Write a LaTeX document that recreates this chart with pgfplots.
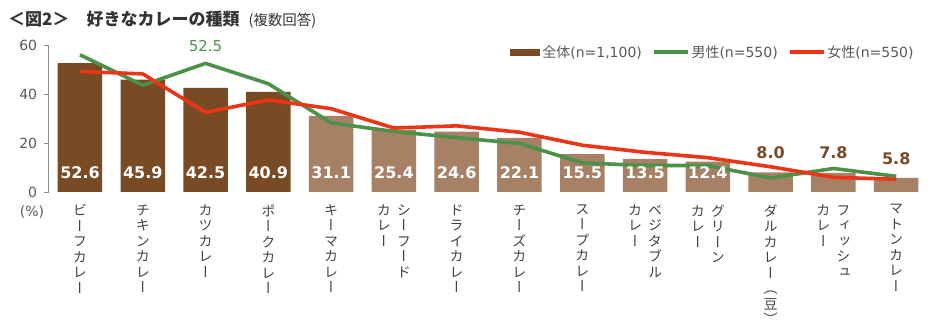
\documentclass[border=0pt]{standalone}
\usepackage{pgfplots}
\pgfplotsset{compat=1.18}
\usepackage{fontspec}
\setmainfont{DejaVu Sans}
\newfontfamily\cjk{Noto Sans CJK JP}
\newfontfamily\cjkv[RawFeature=+vert]{Noto Sans CJK JP}
\definecolor{darkb}{RGB}{120,75,37}
\definecolor{lightb}{RGB}{166,129,102}
\definecolor{grn}{RGB}{76,145,72}
\definecolor{rd}{RGB}{238,52,22}
\definecolor{tgray}{RGB}{89,89,89}
\definecolor{xgray}{RGB}{64,64,64}
\definecolor{agray}{RGB}{140,140,140}
\makeatletter
\DeclareRobustCommand\vcol[1]{\vtop{\baselineskip=15.5pt\lineskiplimit=-20pt\lineskip=0pt\@tfor\vc@c:=#1\do{\hbox to 14pt{\hss\vc@c\hss}}}}
\makeatother
\DeclareRobustCommand\vc[1]{\hbox{\vcol{#1}}}
\DeclareRobustCommand\vcc[2]{\hbox{\vcol{#1}\kern6pt\vcol{#2}}}
\begin{document}
\begin{tikzpicture}
\path[use as bounding box] (-48.6pt,-134pt) rectangle (885.4pt,192pt);
\begin{axis}[
  at={(0pt,0pt)}, anchor=south west,
  scale only axis, width=879pt, height=147pt,
  xmin=-0.5, xmax=13.5, ymin=0, ymax=60,
  clip=false,
  axis lines*=left,
  x axis line style={draw=none},
  axis line style={agray, line width=0.8pt},
  ytick={0,20,40,60}, yticklabels={0,20,40,60},
  xtick={0,...,13},
  xticklabels={\vc{ビーフカレー},\vc{チキンカレー},\vc{カツカレー},\vc{ポークカレー},\vc{キーマカレー},\vcc{カレー}{シーフード},\vc{ドライカレー},\vc{チーズカレー},\vc{スープカレー},\vcc{カレー}{ベジタブル},\vcc{カレー}{グリーン},\vc{ダルカレー（豆）},\vcc{カレー}{フィッシュ},\vc{マトンカレー}},
  xtick style={draw=none},
  ytick style={agray, line width=0.8pt},
  tick align=outside, major tick length=5pt,
  yticklabel style={font=\fontsize{14pt}{14pt}\selectfont, text=tgray, xshift=-3pt},
  xticklabel style={font=\fontsize{14pt}{15.5pt}\selectfont\cjkv, text=xgray, yshift=-4pt},
  legend style={at={(0.99,0.952)}, anchor=east, draw=none, fill=none,
    font=\fontsize{14pt}{14pt}\selectfont, text=tgray,
    /tikz/every even column/.append style={column sep=8pt}},
  legend columns=3, legend cell align=left,
]
\addplot[ybar, bar width=44.5pt, bar shift=0pt, fill=darkb, draw=none,
  legend image code/.code={\fill[darkb] (0pt,-3.5pt) rectangle (30pt,3.5pt);}]
  coordinates {(0,52.6) (1,45.9) (2,42.5) (3,40.9)};
\addlegendentry{{\cjk 全体}(n=1{,}100)}
\addplot[ybar, bar width=44.5pt, bar shift=0pt, fill=lightb, draw=none, forget plot]
  coordinates {(4,31.1) (5,25.4) (6,24.6) (7,22.1) (8,15.5) (9,13.5) (10,12.4) (11,8.0) (12,7.8) (13,5.8)};
\addplot[grn, line width=3.6pt, line join=round, mark=none,
  legend image code/.code={\draw[grn, line width=3.6pt] (0pt,0pt) -- (34pt,0pt);}]
  coordinates {(0,56.0) (1,43.6) (2,52.5) (3,44.2) (4,28.2) (5,24.7) (6,22.2) (7,19.8) (8,11.9) (9,10.8) (10,10.8) (11,5.7) (12,9.6) (13,6.4)};
\addlegendentry{{\cjk 男性}(n=550)}
\addplot[rd, line width=3.6pt, line join=round, mark=none,
  legend image code/.code={\draw[rd, line width=3.6pt] (0pt,0pt) -- (34pt,0pt);}]
  coordinates {(0,49.2) (1,48.2) (2,32.5) (3,37.6) (4,34.0) (5,26.1) (6,27.0) (7,24.4) (8,19.1) (9,16.2) (10,14.0) (11,10.3) (12,6.0) (13,5.2)};
\addlegendentry{{\cjk 女性}(n=550)}
% white value labels inside bars
\addplot[draw=none, mark=none, forget plot, nodes near coords, point meta=explicit symbolic,
  nodes near coords align={center},
  every node near coord/.append style={text=white, font=\fontsize{16pt}{16pt}\selectfont\bfseries, inner sep=0pt}]
  coordinates {(0,7.76) [52.6] (1,7.76) [45.9] (2,7.76) [42.5] (3,7.76) [40.9] (4,7.76) [31.1] (5,7.76) [25.4] (6,7.76) [24.6] (7,7.76) [22.1] (8,7.76) [15.5] (9,7.76) [13.5] (10,7.76) [12.4]};
% brown value labels above small bars
\addplot[draw=none, mark=none, forget plot, nodes near coords, point meta=explicit symbolic,
  nodes near coords align={center},
  every node near coord/.append style={text=darkb, font=\fontsize{16pt}{16pt}\selectfont\bfseries, inner sep=0pt}]
  coordinates {(11,15.9) [8.0] (12,15.9) [7.8] (13,13.4) [5.8]};
% green label
\addplot[draw=none, mark=none, forget plot, nodes near coords, point meta=explicit symbolic,
  nodes near coords align={center},
  every node near coord/.append style={text=grn, font=\fontsize{15pt}{15pt}\selectfont, inner sep=0pt}]
  coordinates {(2,59.6) [52.5]};
\end{axis}
\node[anchor=base west, inner sep=0pt, text=black!80] at (-40.6pt,166pt)
  {\fontsize{17pt}{17pt}\selectfont\cjk\bfseries ＜図2＞　好きなカレーの種類\hspace{9pt}{\mdseries\fontsize{14.5pt}{14.5pt}\selectfont (複数回答)}};
\node[text=tgray, font=\fontsize{14pt}{14pt}\selectfont, inner sep=0pt] at (-16.6pt,-20pt) {(\%)};
\end{tikzpicture}
\end{document}
